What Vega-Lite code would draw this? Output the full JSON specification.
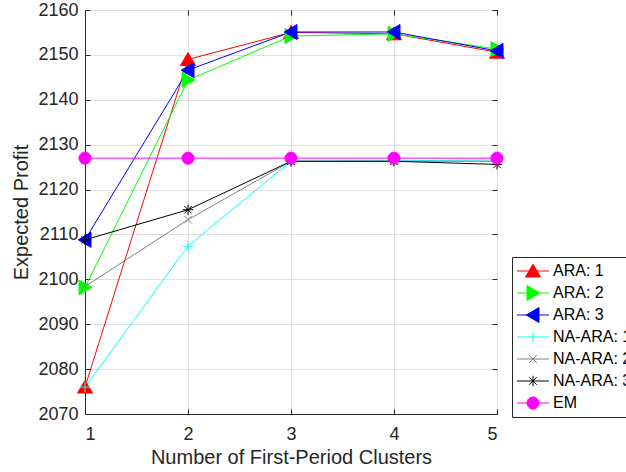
{
  "$schema": "https://vega.github.io/schema/vega-lite/v6.json",
  "width": 412,
  "height": 404,
  "autosize": {"type": "none"},
  "padding": {"left": 85, "top": 10, "right": 129, "bottom": 58},
  "background": "white",
  "config": {
    "font": "Liberation Sans",
    "view": {"stroke": "#262626", "strokeWidth": 1},
    "axis": {
      "labelFont": "Liberation Sans",
      "labelFontSize": 18,
      "labelColor": "#262626",
      "titleFont": "Liberation Sans",
      "titleFontSize": 20,
      "titleFontWeight": "normal",
      "titleColor": "#262626",
      "domainColor": "#262626",
      "tickColor": "#262626",
      "gridColor": "#dfdfdf",
      "tickSize": -5
    }
  },
  "data": {
    "values": [
      {"series": "ARA: 1", "x": 1, "y": 2076.0},
      {"series": "ARA: 1", "x": 2, "y": 2149.0},
      {"series": "ARA: 1", "x": 3, "y": 2155.0},
      {"series": "ARA: 1", "x": 4, "y": 2154.7},
      {"series": "ARA: 1", "x": 5, "y": 2150.6},
      {"series": "ARA: 2", "x": 1, "y": 2098.2},
      {"series": "ARA: 2", "x": 2, "y": 2144.4},
      {"series": "ARA: 2", "x": 3, "y": 2154.2},
      {"series": "ARA: 2", "x": 4, "y": 2154.7},
      {"series": "ARA: 2", "x": 5, "y": 2151.3},
      {"series": "ARA: 3", "x": 1, "y": 2108.8},
      {"series": "ARA: 3", "x": 2, "y": 2146.6},
      {"series": "ARA: 3", "x": 3, "y": 2155.1},
      {"series": "ARA: 3", "x": 4, "y": 2155.1},
      {"series": "ARA: 3", "x": 5, "y": 2150.9},
      {"series": "NA-ARA: 1", "x": 1, "y": 2076.0},
      {"series": "NA-ARA: 1", "x": 2, "y": 2107.4},
      {"series": "NA-ARA: 1", "x": 3, "y": 2126.3},
      {"series": "NA-ARA: 1", "x": 4, "y": 2126.4},
      {"series": "NA-ARA: 1", "x": 5, "y": 2126.6},
      {"series": "NA-ARA: 2", "x": 1, "y": 2098.4},
      {"series": "NA-ARA: 2", "x": 2, "y": 2113.3},
      {"series": "NA-ARA: 2", "x": 3, "y": 2126.3},
      {"series": "NA-ARA: 2", "x": 4, "y": 2126.3},
      {"series": "NA-ARA: 2", "x": 5, "y": 2126.3},
      {"series": "NA-ARA: 3", "x": 1, "y": 2108.8},
      {"series": "NA-ARA: 3", "x": 2, "y": 2115.5},
      {"series": "NA-ARA: 3", "x": 3, "y": 2126.3},
      {"series": "NA-ARA: 3", "x": 4, "y": 2126.3},
      {"series": "NA-ARA: 3", "x": 5, "y": 2125.6},
      {"series": "EM", "x": 1, "y": 2127.0},
      {"series": "EM", "x": 2, "y": 2127.0},
      {"series": "EM", "x": 3, "y": 2127.0},
      {"series": "EM", "x": 4, "y": 2127.0},
      {"series": "EM", "x": 5, "y": 2127.0}
    ]
  },
  "layer": [
    {
      "mark": {"type": "line", "strokeWidth": 1},
      "encoding": {
        "x": {"field": "x", "type": "quantitative", "scale": {"domain": [1, 5], "nice": false},
              "axis": {"values": [1, 2, 3, 4, 5], "format": "d", "title": "Number of First-Period Clusters", "labelPadding": 16, "titlePadding": 4}},
        "y": {"field": "y", "type": "quantitative", "scale": {"domain": [2070, 2160], "nice": false, "zero": false},
              "axis": {"values": [2070, 2080, 2090, 2100, 2110, 2120, 2130, 2140, 2150, 2160], "format": "d", "title": "Expected Profit", "labelPadding": 12, "titlePadding": 6}},
        "stroke": {"field": "series", "type": "nominal",
                   "scale": {"domain": ["ARA: 1", "ARA: 2", "ARA: 3", "NA-ARA: 1", "NA-ARA: 2", "NA-ARA: 3", "EM"],
                             "range": ["#ff0000", "#00ff00", "#0000ff", "#00ffff", "#808080", "#000000", "#ff00ff"]},
                   "legend": null}
      }
    },
    {
      "mark": {"type": "point", "filled": true, "opacity": 1, "size": 225, "strokeWidth": 1},
      "encoding": {
        "x": {"field": "x", "type": "quantitative", "axis": null},
        "y": {"field": "y", "type": "quantitative", "axis": null},
        "shape": {"field": "series", "type": "nominal",
                  "scale": {"domain": ["ARA: 1", "ARA: 2", "ARA: 3", "NA-ARA: 1", "NA-ARA: 2", "NA-ARA: 3", "EM"],
                            "range": ["M0,-0.9L1,0.8L-1,0.8Z", "M0.9,0L-0.8,-1L-0.8,1Z", "M-0.9,0L0.8,-1L0.8,1Z", "M-0.7,0H0.7M0,-0.7V0.7", "M-0.5,-0.5L0.5,0.5M-0.5,0.5L0.5,-0.5", "M-0.7,0H0.7M0,-0.7V0.7M-0.5,-0.5L0.5,0.5M-0.5,0.5L0.5,-0.5", "M-0.8,0A0.8,0.8,0,1,0,0.8,0A0.8,0.8,0,1,0,-0.8,0Z"]},
                  "legend": null},
        "stroke": {"field": "series", "type": "nominal",
                   "scale": {"domain": ["ARA: 1", "ARA: 2", "ARA: 3", "NA-ARA: 1", "NA-ARA: 2", "NA-ARA: 3", "EM"],
                             "range": ["#ff0000", "#00ff00", "#0000ff", "#00ffff", "#808080", "#000000", "#ff00ff"]},
                   "legend": null},
        "fill": {"field": "series", "type": "nominal",
                 "scale": {"domain": ["ARA: 1", "ARA: 2", "ARA: 3", "NA-ARA: 1", "NA-ARA: 2", "NA-ARA: 3", "EM"],
                           "range": ["#ff0000", "#00ff00", "#0000ff", "transparent", "transparent", "transparent", "#ff00ff"]},
                 "legend": null}
      }
    },
    {
      "transform": [{"filter": "datum.x > 100"}],
      "mark": {"type": "point", "filled": true, "opacity": 1, "size": 225, "strokeWidth": 1},
      "encoding": {
        "x": {"field": "x", "type": "quantitative", "axis": {"orient": "top", "values": [1, 2, 3, 4, 5], "labels": false, "title": null, "grid": false, "domain": false}},
        "y": {"field": "y", "type": "quantitative", "axis": {"orient": "right", "values": [2070, 2080, 2090, 2100, 2110, 2120, 2130, 2140, 2150, 2160], "labels": false, "title": null, "grid": false, "domain": false}},
        "shape": {"field": "series", "type": "nominal",
                  "scale": {"domain": ["ARA: 1", "ARA: 2", "ARA: 3", "NA-ARA: 1", "NA-ARA: 2", "NA-ARA: 3", "EM"],
                            "range": ["M-2.13,0H2.13M0,-0.9L1,0.8L-1,0.8Z", "M-2.13,0H2.13M0.9,0L-0.8,-1L-0.8,1Z", "M-2.13,0H2.13M-0.9,0L0.8,-1L0.8,1Z", "M-2.13,0H2.13M0,-0.7V0.7", "M-2.13,0H2.13M-0.5,-0.5L0.5,0.5M-0.5,0.5L0.5,-0.5", "M-2.13,0H2.13M0,-0.7V0.7M-0.5,-0.5L0.5,0.5M-0.5,0.5L0.5,-0.5", "M-2.13,0H2.13M-0.8,0A0.8,0.8,0,1,0,0.8,0A0.8,0.8,0,1,0,-0.8,0Z"]},
                  "legend": {"title": null, "orient": "none", "legendX": 427, "legendY": 247, "padding": 3, "symbolOffset": 10, "labelOffset": 12, "clipHeight": 22, "rowPadding": 0, "labelFontSize": 16, "labelFont": "Liberation Sans", "labelColor": "#000000", "strokeColor": "#262626", "fillColor": "white", "symbolSize": 225, "symbolStrokeWidth": 1, "labelLimit": 300}},
        "stroke": {"field": "series", "type": "nominal",
                   "scale": {"domain": ["ARA: 1", "ARA: 2", "ARA: 3", "NA-ARA: 1", "NA-ARA: 2", "NA-ARA: 3", "EM"],
                             "range": ["#ff0000", "#00ff00", "#0000ff", "#00ffff", "#808080", "#000000", "#ff00ff"]},
                   "legend": {"title": null, "orient": "none", "legendX": 427, "legendY": 247, "padding": 3, "symbolOffset": 10, "labelOffset": 12, "clipHeight": 22, "rowPadding": 0, "labelFontSize": 16, "labelFont": "Liberation Sans", "labelColor": "#000000", "strokeColor": "#262626", "fillColor": "white", "symbolSize": 225, "symbolStrokeWidth": 1, "labelLimit": 300}},
        "fill": {"field": "series", "type": "nominal",
                 "scale": {"domain": ["ARA: 1", "ARA: 2", "ARA: 3", "NA-ARA: 1", "NA-ARA: 2", "NA-ARA: 3", "EM"],
                           "range": ["#ff0000", "#00ff00", "#0000ff", "transparent", "transparent", "transparent", "#ff00ff"]},
                 "legend": {"title": null, "orient": "none", "legendX": 427, "legendY": 247, "padding": 3, "symbolOffset": 10, "labelOffset": 12, "clipHeight": 22, "rowPadding": 0, "labelFontSize": 16, "labelFont": "Liberation Sans", "labelColor": "#000000", "strokeColor": "#262626", "fillColor": "white", "symbolSize": 225, "symbolStrokeWidth": 1, "labelLimit": 300}}
      }
    }
  ],
  "resolve": {"scale": {"shape": "independent", "fill": "independent", "stroke": "independent"}, "axis": {"x": "independent", "y": "independent"}}
}
